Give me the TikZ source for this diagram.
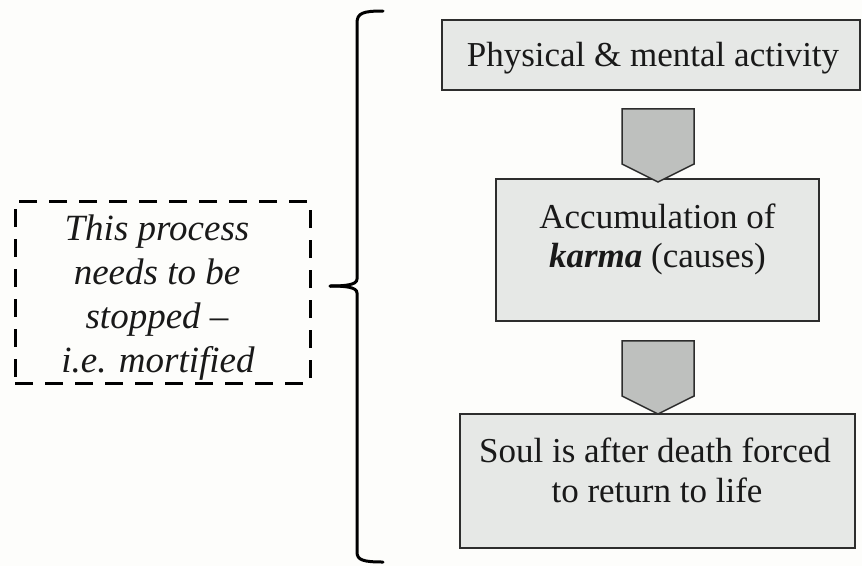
\documentclass[tikz,border=0pt]{standalone}
\usepackage{fontspec}
\setmainfont{Liberation Serif}
\usetikzlibrary{shapes.arrows}
\definecolor{pagebg}{RGB}{253,253,251}
\definecolor{boxfill}{RGB}{230,232,230}
\definecolor{arrowfill}{RGB}{190,192,190}
\definecolor{edge}{RGB}{45,45,45}
\tikzset{
  stagebox/.style={draw=edge, line width=2pt, fill=boxfill, rectangle, inner sep=0pt},
  flowarrow/.style={draw=edge, line width=1.5pt, fill=arrowfill, single arrow,
    single arrow head extend=0pt, single arrow tip angle=127, shape border rotate=270,
    inner sep=0pt, minimum width=72pt, minimum height=73pt},
  bodytext/.style={font=\fontsize{35}{40}\selectfont, text=black!90, inner sep=0pt, anchor=base},
  notebox/.style={draw=black, line width=3pt, dash pattern=on 18pt off 12pt, rectangle, inner sep=0pt},
  notetext/.style={font=\fontsize{37}{44}\selectfont\itshape, text=black!90, inner sep=0pt, anchor=base},
  bracket/.style={draw=black, line width=3pt, line cap=round}
}
\begin{document}
\begin{tikzpicture}[x=1pt, y=-1pt]
  % canvas
  \fill[pagebg] (0,0) rectangle (862,566);
  \useasboundingbox (0,0) rectangle (862,566);

  % the three stages
  \node[stagebox, minimum width=418pt, minimum height=70pt] (b1) at (651,55) {};
  \node[stagebox, minimum width=323pt, minimum height=142pt] (b2) at (657.5,250) {};
  \node[stagebox, minimum width=395pt, minimum height=134pt] (b3) at (657.5,481) {};

  \node[bodytext] (t1) at (653,66) {Physical \& mental activity};
  \node[bodytext] (t2a) at (657.5,228) {Accumulation of};
  \node[bodytext] (t2b) at (657.5,267) {\textbf{\textit{karma}} (causes)};
  \node[bodytext] (t3a) at (655,462) {Soul is after death forced};
  \node[bodytext] (t3b) at (657,502) {to return to life};

  % block arrows between the stages
  \node[flowarrow] (a1) at (658,136.5) {};
  \node[flowarrow] (a2) at (658,368.5) {};

  % the note on the left
  \node[notebox, minimum width=295pt, minimum height=182pt] (note) at (162.5,292) {};
  \node[notetext] (n1) at (157,240) {This process};
  \node[notetext] (n2) at (157,284) {needs to be};
  \node[notetext] (n3) at (157,328) {stopped --};
  \node[notetext] (n4) at (158,372) {i.e. mortified};

  % curly bracket grouping the stages
  \draw[bracket] (383,11) .. controls (363,11) and (357,13) .. (357,23)
    -- (357,279) .. controls (357,285) and (345,286) .. (330,286);
  \draw[bracket] (330,286) .. controls (345,286) and (357,287) .. (357,293)
    -- (357,552) .. controls (357,560) and (363,562) .. (383,562);
\end{tikzpicture}
\end{document}
